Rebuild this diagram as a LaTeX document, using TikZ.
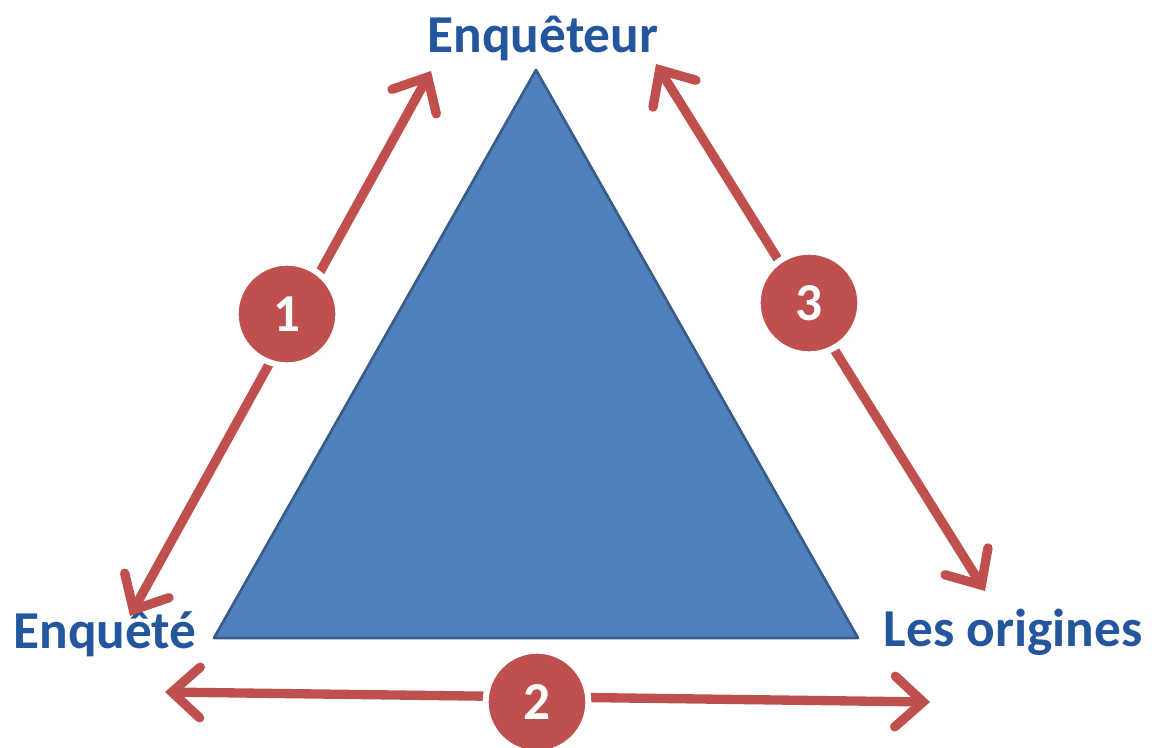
\documentclass[tikz,border=0pt]{standalone}
\usepackage{fontspec}
\setmainfont{Carlito}
\usetikzlibrary{arrows.meta,shadows}
\definecolor{triblue}{HTML}{4F81BD}
\definecolor{triedge}{HTML}{385D8A}
\definecolor{arrred}{HTML}{C0504D}
\definecolor{lblblue}{HTML}{24569E}
\tikzset{
  conn/.style={draw=arrred, line width=7pt, line cap=round,
    {Straight Barb[length=21pt,width=38pt,line width=7pt,line cap=round]}-{Straight Barb[length=21pt,width=38pt,line width=7pt,line cap=round]}},
  badge/.style={circle, fill=arrred, draw=white, line width=4.5pt, minimum size=77pt,
    inner sep=0pt, text=white, font=\fontsize{40}{44}\selectfont\bfseries,
    drop shadow={shadow xshift=1pt, shadow yshift=-1.5pt, opacity=0.3}},
  lbl/.style={text=lblblue, font=\fontsize{40}{44}\selectfont\bfseries, inner sep=0pt}
}
\begin{document}
\begin{tikzpicture}[x=0.75pt,y=-0.75pt]
\useasboundingbox (0,0) rectangle (1158,747);
% triangle
\draw[fill=triblue, draw=triedge, line width=2pt, line join=round]
  (536,70) -- (858,638) -- (214,638) -- cycle;
% labels
\node[lbl] (top) at (543,38) {Enquêteur};
\node[lbl] (left) at (105,634) {Enquêté};
\node[lbl] (right) at (1013,632) {Les origines};
% arrow end points
\coordinate (a1s) at (130,616);
\coordinate (a1e) at (431,71);
\coordinate (a2s) at (165,692);
\coordinate (a2e) at (930,702);
\coordinate (a3s) at (656,64);
\coordinate (a3e) at (985,591);
\draw[conn] (a1s) -- (a1e);
\draw[conn] (a2s) -- (a2e);
\draw[conn] (a3s) -- (a3e);
% badges
\node[badge] (b1) at (287,314) {1};
\node[badge] (b2) at (537,702) {2};
\node[badge] (b3) at (809,303) {3};
\end{tikzpicture}
\end{document}
